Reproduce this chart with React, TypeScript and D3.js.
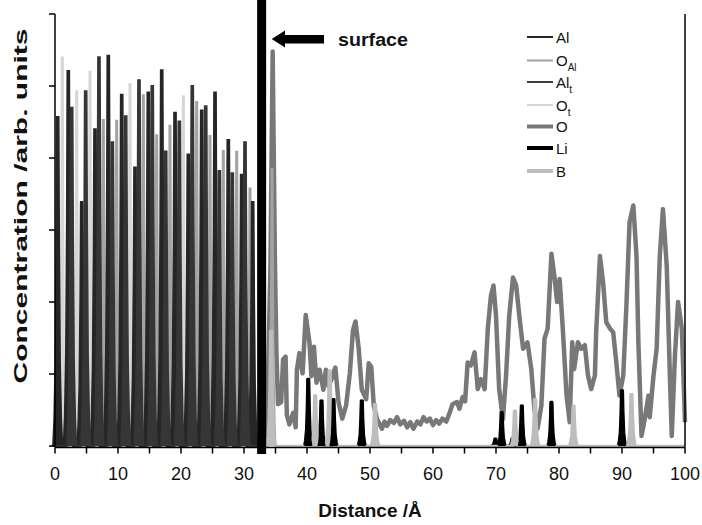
import React from 'react';
import * as d3 from 'd3';

// ---------- data ----------
const xTickLabels = [0, 10, 20, 30, 40, 50, 60, 70, 80, 90, 100];
const xTickMarks = [0, 5, 10, 15, 20, 25, 30, 35, 40, 45, 50, 55, 60, 65, 70, 75, 80, 85, 90, 95, 100];
const yTickMarks = [0, 1, 2, 3, 4, 5, 6];

const surfacePosition = 32.8;

// peak positions (Å) and heights (arb. units)
const alPeaks: [number, number][] = [
  [0.43, 4.57], [2.11, 5.21], [4.24, 3.39], [6.35, 4.4], [8.46, 5.42], [10.59, 4.88],
  [12.7, 3.87], [14.81, 4.91], [16.94, 5.22], [19.05, 4.63], [21.16, 4.05], [23.29, 4.66],
  [25.4, 4.91], [27.51, 4.25], [29.63, 3.77], [31.38, 3.39],
];
const altPeaks: [number, number][] = [
  [2.65, 4.7], [4.87, 4.93], [6.98, 5.4], [9.1, 4.22], [11.22, 4.58], [13.33, 5.08],
  [15.44, 5.0], [17.57, 4.09], [19.73, 4.51], [21.79, 5.0], [23.92, 4.72], [26.08, 3.82],
  [28.14, 3.79], [30.16, 4.22],
];
const oAlPeaks: [number, number][] = [
  [7.67, 4.53], [9.79, 4.52], [14.02, 4.875], [16.14, 4.32], [18.25, 4.45], [22.49, 4.78],
  [24.6, 4.31], [26.71, 4.1], [28.84, 4.09], [30.95, 3.58], [34.45, 3.85],
];
const otPeaks: [number, number][] = [
  [1.16, 5.4], [3.44, 4.93], [5.56, 5.2], [11.9, 5.03], [20.37, 4.86],
];
const liPeaks: [number, number][] = [
  [40.2, 0.93], [42.3, 0.63], [43.5, 0.2], [44.2, 0.65], [48.7, 0.63], [69.9, 0.1],
  [70.9, 0.47], [72.6, 0.1], [74.1, 0.56], [78.8, 0.61], [90.0, 0.77],
];
const bPeaks: [number, number][] = [
  [34.3, 1.6], [41.3, 0.7], [43.6, 1.05], [50.8, 0.58], [73.0, 0.49], [76.2, 0.65],
  [82.3, 0.56], [91.5, 0.72],
];

const oProfile: [number, number][] = [
  [33.6, 0.1], [34.2, 2.5], [34.55, 5.48], [34.9, 2.6], [35.15, 1.3], [35.4, 0.58], [35.9, 0.61],
  [36.2, 1.2], [36.6, 1.24], [36.8, 0.43], [37.2, 0.3], [37.8, 0.46], [38.2, 0.26], [38.4, 1.06],
  [38.8, 1.29], [39.3, 1.01], [39.8, 1.82], [40.4, 1.43], [40.7, 0.97], [41.1, 1.38], [41.5, 0.88],
  [42.0, 1.06], [42.6, 0.78], [43.0, 1.06], [43.4, 0.83], [43.9, 0.93], [44.5, 1.09], [45.0, 0.61],
  [45.6, 0.38], [46.2, 0.56], [46.8, 1.01], [47.3, 1.61], [47.7, 1.73], [48.2, 1.36], [48.7, 0.78],
  [49.4, 0.65], [49.8, 1.15], [50.2, 1.1], [50.6, 0.56], [51.1, 0.38], [51.9, 0.24], [52.3, 0.34],
  [52.7, 0.28], [53.2, 0.36], [53.8, 0.32], [54.3, 0.4], [54.8, 0.3], [55.4, 0.35], [55.9, 0.26],
  [56.4, 0.33], [56.9, 0.24], [57.5, 0.34], [58.0, 0.3], [58.5, 0.4], [59.0, 0.34], [59.5, 0.38],
  [60.0, 0.29], [60.5, 0.36], [61.0, 0.31], [61.5, 0.38], [62.1, 0.34], [62.6, 0.45], [63.1, 0.58],
  [63.8, 0.61], [64.2, 0.52], [64.7, 0.68], [65.1, 0.62], [65.5, 1.16], [66.0, 1.12], [66.6, 1.3],
  [67.1, 0.79], [67.6, 0.93], [68.2, 0.79], [68.7, 1.63], [69.2, 2.09], [69.6, 2.23], [70.0, 1.81],
  [70.5, 0.79], [71.1, 0.375], [71.6, 0.98], [72.1, 1.81], [72.7, 2.34], [73.2, 2.23], [73.7, 1.81],
  [74.3, 1.35], [75.0, 1.44], [75.6, 1.07], [76.1, 0.51], [76.6, 0.24], [77.2, 0.56], [77.7, 1.49],
  [78.2, 1.63], [78.8, 2.67], [79.3, 2.34], [79.7, 2.0], [80.1, 2.32], [80.6, 1.63], [81.2, 0.7],
  [81.7, 0.33], [82.1, 1.44], [82.4, 1.07], [83.0, 1.44], [83.5, 1.35], [84.1, 1.4], [84.6, 0.98],
  [85.1, 0.79], [85.7, 0.98], [85.9, 1.58], [86.5, 2.64], [87.0, 2.27], [87.5, 1.72], [88.1, 1.63],
  [88.6, 1.58], [89.1, 1.16], [89.6, 0.7], [90.2, 0.98], [90.7, 1.95], [91.2, 3.11], [91.8, 3.34],
  [92.3, 2.64], [92.6, 1.44], [93.1, 0.14], [93.6, 0.375], [94.2, 0.7], [94.4, 0.4], [95.0, 0.98],
  [95.5, 1.35], [96.0, 2.64], [96.5, 3.29], [97.1, 2.5], [97.6, 0.98], [97.9, 0.14], [98.4, 1.25],
  [98.9, 2.0], [99.5, 1.63], [100, 0.33],
];

const legendLabels = ['Al', 'O', 'Al', 'O', 'O', 'Li', 'B'];
const legendSubs = ['', 'Al', 't', 't', '', '', ''];

// ---------- layout ----------
const W = 702;
const H = 525;
const x = d3.scaleLinear().domain([0, 100]).range([55, 685]);
const y = d3.scaleLinear().domain([0, 6]).range([446, 14]);
const FONT = '"Liberation Sans", Arial, sans-serif';

const line = d3
  .line<[number, number]>()
  .x((p) => x(p[0]))
  .y((p) => y(p[1]));

// drawing profile of one narrow peak: (half-width fraction, height fraction)
const peakShape: [number, number][] = [
  [1, 0], [0.75, 0.08], [0.5, 0.25], [0.32, 0.6], [0.2, 1],
];

function peakPoints(d: number, h: number, hb: number): [number, number][] {
  const left = peakShape.map(([w, f]) => [d - w * hb, f * h] as [number, number]);
  const right = peakShape
    .slice()
    .reverse()
    .map(([w, f]) => [d + w * hb, f * h] as [number, number]);
  return [...left, ...right];
}

// a series drawn as a baseline with narrow peaks on it
function spikeSeries(peaks: [number, number][], start: number, end: number, hb: number) {
  const pts: [number, number][] = [[start, 0]];
  for (const [d, h] of peaks) pts.push(...peakPoints(d, h, hb));
  pts.push([end, 0]);
  return line(pts) as string;
}

const seriesStyle = [
  { color: '#262626', width: 2 }, // Al
  { color: '#a3a3a3', width: 2 }, // O_Al
  { color: '#3c3c3c', width: 2 }, // Al_t
  { color: '#d6d6d6', width: 2 }, // O_t
  { color: '#787878', width: 4 }, // O
  { color: '#000000', width: 4 }, // Li
  { color: '#bdbdbd', width: 4 }, // B
];

export default function App() {
  const axisY = 447.5;
  return (
    <svg
      width={W}
      height={H}
      style={{ position: 'absolute', left: 0, top: 0, background: '#fff' }}
      fontFamily={FONT}
    >
      <rect x={0} y={0} width={W} height={H} fill="#fff" />

      {/* O curve */}
      <path d={line(oProfile) as string} fill="none" stroke="#787878" strokeWidth={4.5} strokeLinejoin="round" />

      {/* lattice spikes */}
      <path d={spikeSeries(otPeaks, 0, surfacePosition, 0.6)} fill="#d6d6d6" stroke="#d6d6d6" strokeWidth={1.5} />
      <path d={spikeSeries(oAlPeaks, 0, 100, 0.6)} fill="#a3a3a3" stroke="#a3a3a3" strokeWidth={1.5} />
      <path d={spikeSeries(alPeaks, 0, surfacePosition, 0.75)} fill="#262626" stroke="#262626" strokeWidth={1.8} />
      <path d={spikeSeries(altPeaks, 0, surfacePosition, 0.75)} fill="#363636" stroke="#363636" strokeWidth={1.8} />

      {/* Li and B */}
      {liPeaks.map(([d, h], i) => (
        <path
          key={'li' + i}
          d={line(peakPoints(d, h, 0.65)) as string}
          fill="#000"
          stroke="#000"
          strokeWidth={2.5}
          strokeLinejoin="round"
        />
      ))}
      <path d={spikeSeries(bPeaks, 33, 100, 0.7)} fill="#bdbdbd" stroke="#bdbdbd" strokeWidth={2.5} strokeLinejoin="round" />
      {liPeaks.map(([d, h], i) =>
        h > 0.3 ? (
          <path
            key={'li2' + i}
            d={line(peakPoints(d, h, 0.5)) as string}
            fill="#000"
            stroke="#000"
            strokeWidth={2}
            strokeLinejoin="round"
          />
        ) : null
      )}

      {/* axes */}
      <line x1={x(0)} x2={x(100)} y1={axisY} y2={axisY} stroke="#000" strokeWidth={1.5} />
      <line x1={x(0)} x2={x(0)} y1={y(6)} y2={axisY} stroke="#000" strokeWidth={1.5} />
      <line x1={x(100)} x2={x(100)} y1={y(6)} y2={axisY} stroke="#000" strokeWidth={1.5} />
      {yTickMarks.map((t) => (
        <line key={'yt' + t} x1={x(0) - 6} x2={x(0)} y1={y(t)} y2={y(t)} stroke="#000" strokeWidth={1.5} />
      ))}
      {xTickMarks.map((t) => (
        <line key={'xt' + t} x1={x(t)} x2={x(t)} y1={axisY} y2={axisY + 6} stroke="#000" strokeWidth={1.5} />
      ))}
      {xTickLabels.map((t) => (
        <text key={'xl' + t} x={x(t)} y={480} textAnchor="middle" fontSize={18} fill="#111">
          {t}
        </text>
      ))}

      {/* axis titles */}
      <text x={370} y={517} textAnchor="middle" fontSize={19} fontWeight="bold" fill="#111">
        Distance /Å
      </text>
      <text
        transform={`translate(27, 206) rotate(-90)`}
        textAnchor="middle"
        fontSize={19}
        fontWeight="bold"
        fill="#111"
        textLength={355}
        lengthAdjust="spacingAndGlyphs"
      >
        Concentration /arb. units
      </text>

      {/* surface marker */}
      <rect x={x(surfacePosition) - 4.5} y={0} width={9} height={454} fill="#000" />
      <path d="M271.7,39 L285,30.5 L285,35 L324,35 L324,43.5 L285,43.5 L285,47.5 Z" fill="#000" />
      <text x={338} y={46} fontSize={18} fontWeight="bold" fill="#111" textLength={70} lengthAdjust="spacingAndGlyphs">
        surface
      </text>

      {/* legend */}
      {legendLabels.map((lab, i) => {
        const ly = [37, 60.5, 82, 105, 126.5, 148, 171][i];
        const st = seriesStyle[i];
        return (
          <g key={'lg' + i}>
            <line x1={527} x2={553} y1={ly} y2={ly} stroke={st.color} strokeWidth={st.width} />
            <text x={556} y={ly + 5.5} fontSize={15} fill="#111">
              {lab}
              {legendSubs[i] ? (
                <tspan fontSize={10} dy={5}>
                  {legendSubs[i]}
                </tspan>
              ) : null}
            </text>
          </g>
        );
      })}
    </svg>
  );
}
